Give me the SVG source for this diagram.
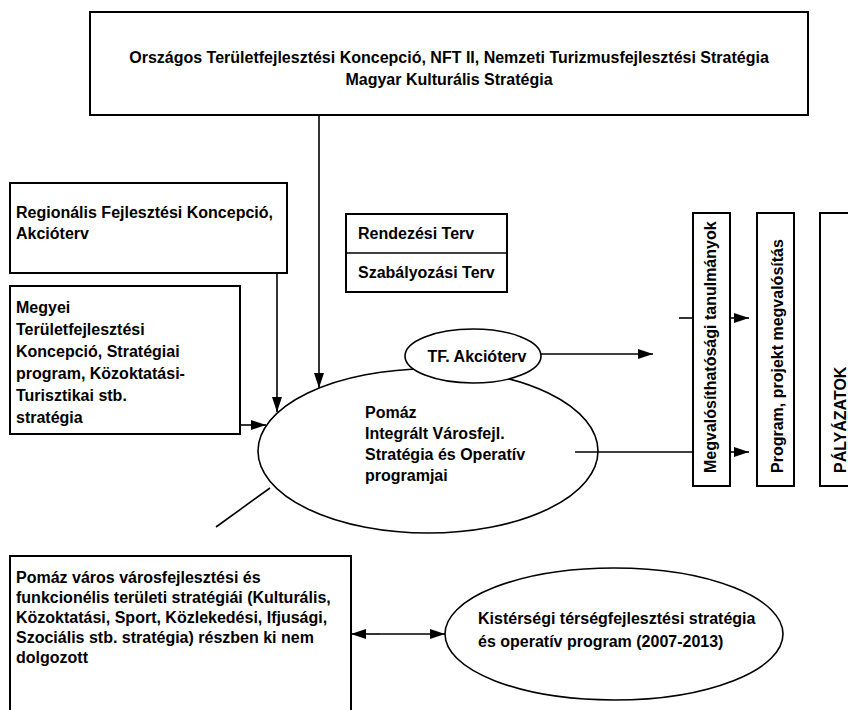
<svg xmlns="http://www.w3.org/2000/svg" width="848" height="710" viewBox="0 0 848 710">
<defs>
<marker id="ah" markerUnits="userSpaceOnUse" markerWidth="15" markerHeight="10" refX="15" refY="5" orient="auto">
<path d="M0,0 L15,5 L0,10 z" fill="#000"/>
</marker>
<style>
.box{fill:#fff;stroke:#000;stroke-width:2}
.ell{fill:#fff;stroke:#000;stroke-width:1.6}
.ln{fill:none;stroke:#000;stroke-width:1.6}
.arr{fill:none;stroke:#000;stroke-width:1.6;marker-end:url(#ah)}
.t{font-family:"Liberation Sans",Arial,sans-serif;font-weight:bold;font-size:16px;fill:#000}
</style>
</defs>
<rect width="848" height="710" fill="#fff"/>

<g id="big-ellipse">
<ellipse class="ell" cx="428" cy="451" rx="170" ry="82"/>
<text class="t" x="365" y="418">Pomáz</text>
<text class="t" x="365" y="439">Integrált Városfejl.</text>
<text class="t" x="365" y="460">Stratégia és Operatív</text>
<text class="t" x="365" y="481">programjai</text>
</g>

<g id="tf-akcioterv">
<ellipse class="ell" cx="473" cy="356" rx="68" ry="27"/>
<text class="t" x="477" y="362" text-anchor="middle">TF. Akcióterv</text>
</g>

<g id="orszagos">
<rect class="box" x="90" y="12" width="718" height="103"/>
<text class="t" x="449" y="63" text-anchor="middle">Országos Területfejlesztési Koncepció, NFT II, Nemzeti Turizmusfejlesztési Stratégia</text>
<text class="t" x="449" y="85" text-anchor="middle">Magyar Kulturális Stratégia</text>
</g>

<g id="regionalis">
<rect class="box" x="10" y="183" width="277" height="90"/>
<text class="t" x="16" y="218">Regionális Fejlesztési Koncepció,</text>
<text class="t" x="16" y="239">Akcióterv</text>
</g>

<g id="megyei">
<rect class="box" x="10" y="286" width="230" height="148"/>
<text class="t" x="16" y="313">Megyei</text>
<text class="t" x="16" y="335">Területfejlesztési</text>
<text class="t" x="16" y="357">Koncepció, Stratégiai</text>
<text class="t" x="16" y="379">program, Közoktatási-</text>
<text class="t" x="16" y="401">Turisztikai stb.</text>
<text class="t" x="16" y="423">stratégia</text>
</g>

<g id="rendezesi">
<rect class="box" x="346" y="214" width="161" height="78"/>
<line class="ln" x1="346" y1="253" x2="507" y2="253"/>
<text class="t" x="358" y="239">Rendezési Terv</text>
<text class="t" x="358" y="278">Szabályozási Terv</text>
</g>

<g id="megvalosithatosagi">
<rect class="box" x="693" y="213" width="37" height="273"/>
<text class="t" transform="translate(716,473) rotate(-90)">Megvalósíthatósági tanulmányok</text>
</g>

<g id="program">
<rect class="box" x="757" y="213" width="37" height="273"/>
<text class="t" transform="translate(783,473) rotate(-90)">Program, projekt megvalósítás</text>
</g>

<g id="palyazatok">
<rect class="box" x="820" y="213" width="40" height="273"/>
<text class="t" transform="translate(846,473) rotate(-90)">PÁLYÁZATOK</text>
</g>

<g id="pomaz-varos">
<rect class="box" x="10" y="556" width="341" height="160"/>
<text class="t" x="16" y="583">Pomáz város városfejlesztési és</text>
<text class="t" x="16" y="603">funkcionélis területi stratégiái (Kulturális,</text>
<text class="t" x="16" y="623">Közoktatási, Sport, Közlekedési, Ifjusági,</text>
<text class="t" x="16" y="643">Szociális stb. stratégia) részben ki nem</text>
<text class="t" x="16" y="663">dolgozott</text>
</g>

<g id="kistersegi">
<ellipse class="ell" cx="614" cy="634" rx="169" ry="66"/>
<text class="t" x="478" y="624">Kistérségi térségfejlesztési stratégia</text>
<text class="t" x="478" y="647">és operatív program (2007-2013)</text>
</g>

<g id="connectors">
<line class="arr" x1="319" y1="115" x2="319" y2="388"/>
<line class="arr" x1="277" y1="273" x2="277" y2="412"/>
<line class="arr" x1="240" y1="425" x2="266" y2="425"/>
<line class="ln" x1="216" y1="527" x2="270" y2="488"/>
<line class="arr" x1="541" y1="354" x2="653" y2="354"/>
<line class="ln" x1="575" y1="452" x2="693" y2="452"/>
<line class="ln" x1="679" y1="318" x2="693" y2="318"/>
<line class="arr" x1="730" y1="318" x2="749" y2="318"/>
<line class="arr" x1="730" y1="452" x2="749" y2="452"/>
<line class="arr" x1="380" y1="634" x2="445" y2="634"/>
<line class="arr" x1="380" y1="634" x2="351" y2="634"/>
</g>
</svg>
